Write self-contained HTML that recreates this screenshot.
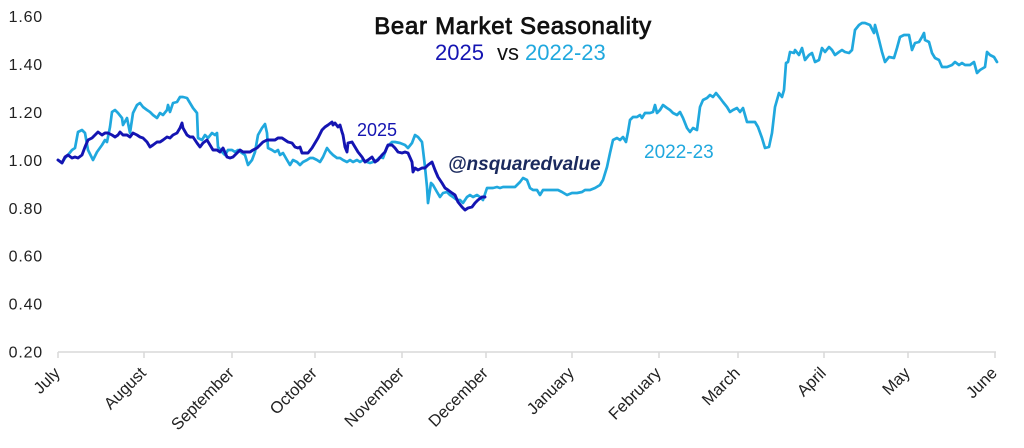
<!DOCTYPE html>
<html>
<head>
<meta charset="utf-8">
<style>
  html, body { margin: 0; padding: 0; background: #ffffff; }
  body { width: 1024px; height: 448px; overflow: hidden; }
  svg { display: block; }
  text { font-family: "Liberation Sans", "DejaVu Sans", sans-serif; }
</style>
</head>
<body>
<svg width="1024" height="448" viewBox="0 0 1024 448" xmlns="http://www.w3.org/2000/svg">
  <rect x="0" y="0" width="1024" height="448" fill="#ffffff"/>

  <!-- Title -->
  <text x="513" y="34" text-anchor="middle" font-size="24" fill="#111111" letter-spacing="0.7" stroke="#111111" stroke-width="0.8">Bear Market Seasonality</text>
  <text x="435" y="60" font-size="22" fill="#1414b2">2025</text>
  <text x="497" y="60" font-size="22" fill="#111111">vs</text>
  <text x="525" y="60" font-size="22" fill="#20a8de">2022-23</text>

  <!-- Y axis labels -->
  <g font-size="16" fill="#222222" text-anchor="end" letter-spacing="0.8">
    <text x="43" y="22.2">1.60</text>
    <text x="43" y="70.1">1.40</text>
    <text x="43" y="118">1.20</text>
    <text x="43" y="165.9">1.00</text>
    <text x="43" y="213.8">0.80</text>
    <text x="43" y="261.7">0.60</text>
    <text x="43" y="309.6">0.40</text>
    <text x="43" y="357.5">0.20</text>
  </g>

  <!-- X axis -->
  <line x1="58" y1="352" x2="996" y2="352" stroke="#d9d9d9" stroke-width="1.5"/>
  <g stroke="#d9d9d9" stroke-width="1.5">
    <line x1="58" y1="352" x2="58" y2="358"/>
    <line x1="144" y1="352" x2="144" y2="358"/>
    <line x1="232" y1="352" x2="232" y2="358"/>
    <line x1="315" y1="352" x2="315" y2="358"/>
    <line x1="402" y1="352" x2="402" y2="358"/>
    <line x1="486" y1="352" x2="486" y2="358"/>
    <line x1="572" y1="352" x2="572" y2="358"/>
    <line x1="659" y1="352" x2="659" y2="358"/>
    <line x1="738" y1="352" x2="738" y2="358"/>
    <line x1="824" y1="352" x2="824" y2="358"/>
    <line x1="908" y1="352" x2="908" y2="358"/>
    <line x1="995" y1="352" x2="995" y2="358"/>
  </g>
  <g font-size="16.5" fill="#222222" text-anchor="end">
    <text transform="translate(61,374) rotate(-45)">July</text>
    <text transform="translate(147,374) rotate(-45)">August</text>
    <text transform="translate(235,374) rotate(-45)">September</text>
    <text transform="translate(318,374) rotate(-45)">October</text>
    <text transform="translate(405,374) rotate(-45)">November</text>
    <text transform="translate(489,374) rotate(-45)">December</text>
    <text transform="translate(575,374) rotate(-45)">January</text>
    <text transform="translate(662,374) rotate(-45)">February</text>
    <text transform="translate(741,374) rotate(-45)">March</text>
    <text transform="translate(827,374) rotate(-45)">April</text>
    <text transform="translate(911,374) rotate(-45)">May</text>
    <text transform="translate(998,374) rotate(-45)">June</text>
  </g>

  <!-- 2022-23 series -->
  <polyline fill="none" stroke="#20a8de" stroke-width="2.7" stroke-linejoin="round" stroke-linecap="round"
    points="58,160 62,163 65,158 68,155 72,150 75,148 78,132 82,130 85,133 88,150 93,160 97,152 102,145 105,140 107,142 110,127 112,112 115,110 118,113 122,118 123,125 127,118 130,133 133,113 137,105 140,103 143,107 147,110 150,112 153,115 157,118 160,113 163,115 167,110 168,105 170,112 173,103 177,102 180,97 183,97 187,98 190,103 193,108 197,113 198,138 202,140 205,135 208,138 212,133 215,135 217,133 218,147 222,152 225,155 228,150 232,150 235,152 238,150 242,153 245,155 248,165 252,160 255,152 258,135 262,128 265,124 267,133 268,148 272,150 275,152 278,150 280,155 283,153 287,160 290,165 293,160 297,162 300,165 303,162 307,160 310,158 313,158 317,160 320,162 323,157 327,148 330,152 333,155 337,158 340,158 343,160 347,162 350,160 353,162 357,160 360,162 363,160 367,162 370,163 373,162 377,160 380,157 383,158 387,147 392,142 395,142 400,143 405,145 408,148 412,143 415,135 418,137 422,142 423,150 425,167 427,187 428,203 431,183 433,185 437,192 440,197 443,193 447,192 450,195 453,197 457,200 460,200 463,203 467,197 470,195 473,197 477,195 480,197 483,200 487,188 490,188 493,188 497,187 500,188 503,187 507,187 510,187 515,187 520,182 523,178 527,180 530,188 533,190 537,190 540,195 543,190 548,190 553,190 558,190 562,192 567,195 572,193 577,193 582,192 585,190 590,190 595,188 600,185 603,180 607,167 610,153 613,140 617,138 620,140 623,137 626,142 628,132 630,120 633,117 637,117 640,115 642,118 645,113 650,113 653,112 655,105 657,113 660,110 663,105 667,108 670,110 673,113 677,115 680,112 683,118 687,128 690,132 693,128 697,130 700,107 703,100 707,98 710,95 713,97 716,93 720,98 723,102 727,107 730,112 733,110 737,108 740,112 743,108 747,122 752,122 755,122 758,127 762,138 765,148 769,147 772,133 775,107 779,93 782,97 784,90 786,63 788,62 790,52 794,53 795,50 799,55 802,48 805,60 809,55 812,53 815,62 819,60 822,48 825,52 829,47 832,50 835,55 839,52 842,50 845,52 849,53 852,50 855,30 859,25 862,23 865,23 870,25 874,33 875,25 879,40 882,52 885,62 889,57 894,58 897,48 900,37 904,35 909,35 912,50 915,43 919,42 922,37 924,33 925,40 929,42 932,53 935,58 939,60 942,67 947,67 952,65 955,62 959,65 962,63 965,65 970,65 974,62 977,73 980,70 985,67 987,52 990,55 994,57 997,62"/>

  <!-- 2025 series -->
  <polyline fill="none" stroke="#1414b2" stroke-width="2.9" stroke-linejoin="round" stroke-linecap="round"
    points="58,160 62,163 65,157 68,155 72,158 75,157 78,158 82,155 85,147 88,140 92,138 95,135 98,132 102,135 105,133 108,133 112,135 115,137 118,135 120,132 123,135 127,135 130,137 133,133 137,135 140,137 143,138 147,142 150,147 153,145 157,142 160,142 163,140 167,137 170,138 173,135 177,133 180,128 182,123 183,128 187,135 190,137 193,137 197,143 200,147 203,143 207,140 210,145 213,150 217,150 220,152 223,148 227,157 230,158 233,157 237,153 240,150 243,152 247,152 250,152 253,150 257,148 260,145 263,142 267,140 270,140 275,140 278,138 282,138 285,140 288,142 292,143 295,147 298,148 300,147 302,153 305,153 308,153 312,148 315,143 318,138 322,130 325,127 328,125 332,122 333,125 335,123 338,127 340,125 342,132 343,135 345,147 347,152 348,143 352,142 355,147 358,152 362,157 365,162 368,160 372,157 375,162 378,160 382,155 385,152 388,145 392,145 395,148 398,152 402,153 405,152 408,153 412,162 413,172 415,168 418,170 422,168 425,168 428,165 432,162 435,170 438,177 442,183 445,188 448,190 452,193 455,195 458,202 462,207 465,210 468,208 472,207 475,203 478,200 482,197 485,197"/>

  <!-- Series labels -->
  <text x="357" y="136" font-size="18" fill="#1414b2">2025</text>
  <text x="644" y="158" font-size="19" fill="#20a8de">2022-23</text>
  <text x="448" y="170" font-size="19" font-weight="bold" font-style="italic" fill="#1b2a5e">@nsquaredvalue</text>
</svg>
</body>
</html>
